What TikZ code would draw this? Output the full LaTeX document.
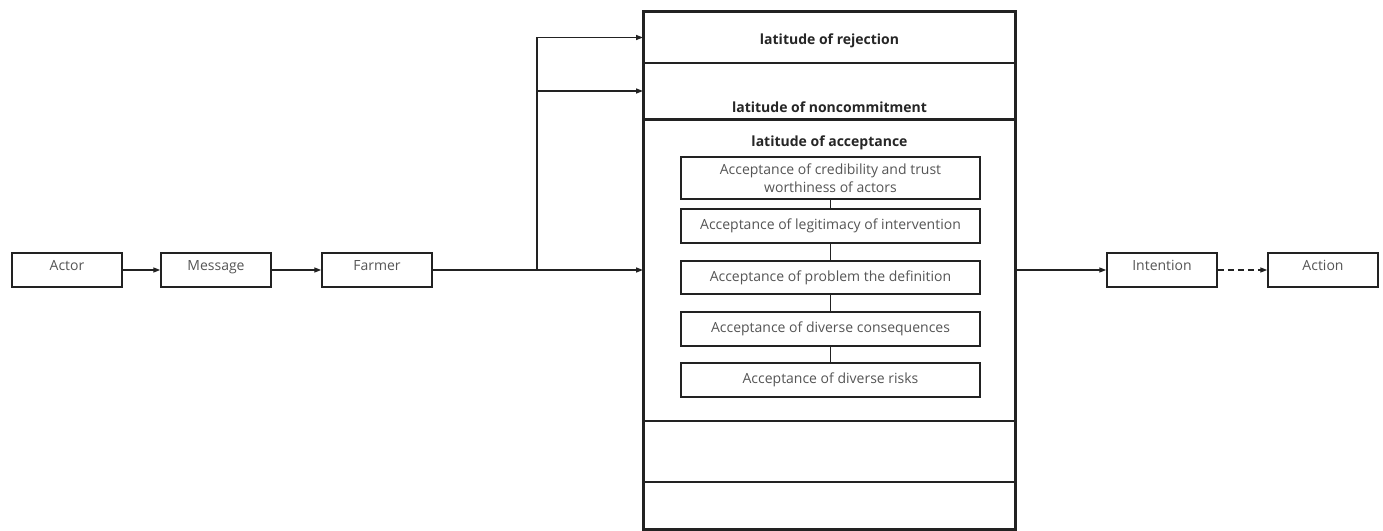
\documentclass[tikz,border=0pt]{standalone}
\usepackage{fontspec}
\setmainfont{Open Sans}
\usetikzlibrary{arrows.meta}
\definecolor{txtgray}{HTML}{555555}
\definecolor{linegray}{HTML}{222222}
\begin{document}
\begin{tikzpicture}[x=1pt,y=-1pt,
  arr/.style={draw=linegray, line width=1.3pt, -{Triangle[length=7pt,width=5pt]}},
  conn/.style={draw=linegray, line width=1.3pt},
  flowbox/.style={draw=linegray, line width=1.5pt, minimum width=110pt, minimum height=34pt, inner sep=0pt, text height=11pt, text depth=11pt, font=\fontsize{14}{16}\selectfont, text=txtgray},
  subbox/.style={draw=linegray, line width=1.4pt, minimum width=299pt, inner sep=0pt, align=center, font=\fontsize{14}{18}\selectfont, text=txtgray},
  section/.style={draw=linegray, line width=2pt, minimum width=371pt, inner sep=0pt},
  lat/.style={font=\fontsize{14}{16}\selectfont\bfseries, text=black!85}]
\useasboundingbox (0,0) rectangle (1383,530);
\fill[white] (0,0) rectangle (1383,530);
% flow boxes
\node[flowbox] (actor) at (67,270) {Actor};
\node[flowbox] (message) at (216,270) {Message};
\node[flowbox] (farmer) at (377,270) {Farmer};
\node[flowbox] (intention) at (1162,270) {Intention};
\node[flowbox] (action) at (1323,270) {Action};
% big box sections
\node[section, minimum height=51pt] (rej) at (829.5,37.5) {};
\node[section, minimum height=56pt] (nonc) at (829.5,91) {};
\node[section, minimum height=301pt] (acc) at (829.5,270) {};
\node[section, minimum height=61pt] (e1) at (829.5,451) {};
\node[section, minimum height=47pt] (e2) at (829.5,505) {};
\draw[linegray, line width=2.6pt] (rej.north west) rectangle (e2.south east);
% latitude labels
\node[lat] (lrej) at (829.5,41) {latitude of rejection};
\node[lat] (lnonc) at (829.5,107) {latitude of noncommitment};
\node[lat] (lacc) at (829.5,143) {latitude of acceptance};
% sub boxes
\node[subbox, minimum height=42pt] (s1) at (830.5,178) {Acceptance of credibility and trust\\worthiness of actors};
\node[subbox, minimum height=34pt] (s2) at (830.5,226) {Acceptance of legitimacy of intervention};
\node[subbox, minimum height=33pt] (s3) at (830.5,277.5) {\raisebox{3pt}{Acceptance of problem the definition}};
\node[subbox, minimum height=34pt] (s4) at (830.5,329) {Acceptance of diverse consequences};
\node[subbox, minimum height=34pt] (s5) at (830.5,380) {\raisebox{3pt}{Acceptance of diverse risks}};
\draw[conn] (s1) -- (s2);
\draw[conn] (s2) -- (s3);
\draw[conn] (s3) -- (s4);
\draw[conn] (s4) -- (s5);
% connectors
\draw[arr] (actor) -- (message);
\draw[arr] (message) -- (farmer);
\coordinate (br) at (537,270);
\draw[conn] (farmer.east) -- (br);
\draw[arr] (br) -- (acc.west);
\draw[arr] (br) |- (rej.west);
\draw[arr] (br) |- (nonc.west);
\draw[arr] (acc.east) -- (intention.west);
\draw[arr, dashed, dash pattern=on 6pt off 4pt] (intention) -- (action);
\end{tikzpicture}
\end{document}
